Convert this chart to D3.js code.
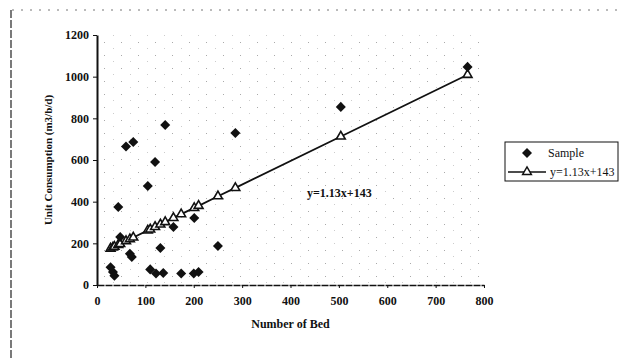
<!DOCTYPE html>
<html>
<head>
<meta charset="utf-8">
<script src="https://cdn.jsdelivr.net/npm/d3@7"></script>
<style>
  body { margin: 0; background: #fff; }
  text { font-family: "Liberation Serif", "DejaVu Serif", serif; fill: #111; }
</style>
</head>
<body>
<div id="chart"></div>
<script>
// sample points (beds, m3/d)
const sampleBeds = [28, 33, 36, 44, 48, 60, 68, 72, 75, 105, 110, 120, 122, 131, 137, 141, 158, 174, 200, 201, 210, 250, 286, 504, 766];
const sampleUse  = [85, 62, 45, 374, 230, 665, 150, 135, 686, 475, 75, 590, 55, 178, 58, 768, 278, 55, 55, 322, 62, 187, 730, 855, 1047];

// fitted points (triangles on the line)
const fitBeds = [28, 33, 36, 44, 48, 60, 68, 75, 105, 110, 120, 131, 141, 158, 174, 201, 210, 250, 286, 504, 766];
const fitUse  = [175, 180, 184, 193, 197, 211, 220, 228, 262, 267, 279, 291, 302, 322, 340, 370, 380, 426, 466, 713, 1009];

const xTicks = [0, 100, 200, 300, 400, 500, 600, 700, 800];
const yTicks = [0, 200, 400, 600, 800, 1000, 1200];
const fitLabel = 'y=1.13x+143';

const width = 622, height = 360;
const svg = d3.select('#chart').append('svg')
  .attr('width', width)
  .attr('height', height);

const x = d3.scaleLinear().domain([0, 800]).range([97, 484]);
const y = d3.scaleLinear().domain([0, 1200]).range([285, 35]);

// scan frame (top + left)
svg.append('line')
  .attr('x1', 12).attr('x2', 622).attr('y1', 10).attr('y2', 10)
  .attr('stroke', '#777').attr('stroke-width', 1).attr('stroke-dasharray', '2,7');
svg.append('line')
  .attr('x1', 11).attr('x2', 11).attr('y1', 10).attr('y2', 360)
  .attr('stroke', '#222').attr('stroke-width', 1.2).attr('stroke-dasharray', '8,2');

// speckled plot background
const defs = svg.append('defs');
const pat = defs.append('pattern')
  .attr('id', 'speckle')
  .attr('width', 17).attr('height', 13)
  .attr('patternUnits', 'userSpaceOnUse');
pat.append('rect').attr('x', 2).attr('y', 3).attr('width', 1).attr('height', 1).attr('fill', '#aaa');
pat.append('rect').attr('x', 11).attr('y', 9).attr('width', 1).attr('height', 1).attr('fill', '#ccc');
svg.append('rect')
  .attr('x', x(0)).attr('y', y(1200))
  .attr('width', x(800) - x(0)).attr('height', y(0) - y(1200))
  .attr('fill', 'url(#speckle)');

// axes
const yAxis = svg.append('g')
  .attr('transform', `translate(${x(0)},0)`)
  .call(d3.axisLeft(y).tickValues(yTicks).tickFormat(d3.format('d')).tickSize(4).tickPadding(4).tickSizeOuter(0));
const xAxis = svg.append('g')
  .attr('transform', `translate(0,${y(0)})`)
  .call(d3.axisBottom(x).tickValues(xTicks).tickFormat(d3.format('d')).tickSize(3).tickPadding(8).tickSizeOuter(0));

[yAxis, xAxis].forEach(a => {
  a.selectAll('text')
    .style('font-family', '"Liberation Serif", serif')
    .style('font-size', '12px')
    .style('font-weight', 'bold')
    .style('fill', '#111');
  a.selectAll('line').attr('stroke', '#111');
});
yAxis.select('.domain').attr('stroke', '#111').attr('stroke-width', 2);
xAxis.select('.domain').attr('stroke', '#111').attr('stroke-width', 1.3).attr('stroke-dasharray', '7,1');

// axis titles
svg.append('text')
  .attr('transform', `translate(52,${(y(0) + y(1200)) / 2}) rotate(-90)`)
  .attr('text-anchor', 'middle')
  .attr('font-size', '11px')
  .attr('font-weight', 'bold')
  .text('Unit Consumption (m3/b/d)');
svg.append('text')
  .attr('x', (x(0) + x(800)) / 2)
  .attr('y', 328)
  .attr('text-anchor', 'middle')
  .attr('font-size', '12px')
  .attr('font-weight', 'bold')
  .text('Number of Bed');

// fitted line + triangles
const fit = fitBeds.map((b, i) => ({ b, u: fitUse[i] })).sort((a, c) => a.b - c.b);
svg.append('path')
  .datum(fit)
  .attr('fill', 'none')
  .attr('stroke', '#111')
  .attr('stroke-width', 1.8)
  .attr('d', d3.line().x(d => x(d.b)).y(d => y(d.u)));

const tri = d3.symbol().type(d3.symbolTriangle).size(34);
svg.append('g').selectAll('path')
  .data(fit)
  .enter()
  .append('path')
  .attr('transform', d => `translate(${x(d.b)},${y(d.u)})`)
  .attr('d', tri)
  .attr('fill', '#fff')
  .attr('stroke', '#111')
  .attr('stroke-width', 1.6);

// sample diamonds
const diamond = d3.symbol().type(d3.symbolDiamond2).size(64);
svg.append('g').selectAll('path')
  .data(sampleBeds.map((b, i) => ({ b, u: sampleUse[i] })))
  .enter()
  .append('path')
  .attr('transform', d => `translate(${x(d.b)},${y(d.u)})`)
  .attr('d', diamond)
  .attr('fill', '#111');

// equation label
svg.append('text')
  .attr('x', 307)
  .attr('y', 197)
  .attr('font-size', '12px')
  .attr('font-weight', 'bold')
  .text(fitLabel);

// legend
const lg = svg.append('g').attr('transform', 'translate(505,142)');
lg.append('rect')
  .attr('width', 113).attr('height', 39)
  .attr('fill', '#fff')
  .attr('stroke', '#111').attr('stroke-width', 1);
lg.append('path')
  .attr('transform', 'translate(22,11)')
  .attr('d', diamond)
  .attr('fill', '#111');
lg.append('text').attr('x', 43).attr('y', 15).attr('font-size', '12px').text('Sample');
lg.append('line')
  .attr('x1', 3).attr('x2', 41).attr('y1', 30).attr('y2', 30)
  .attr('stroke', '#111').attr('stroke-width', 1.6);
lg.append('path')
  .attr('transform', 'translate(22,30)')
  .attr('d', tri)
  .attr('fill', '#fff')
  .attr('stroke', '#111').attr('stroke-width', 1.4);
lg.append('text').attr('x', 45).attr('y', 34).attr('font-size', '12px').text(fitLabel);
</script>
</body>
</html>
